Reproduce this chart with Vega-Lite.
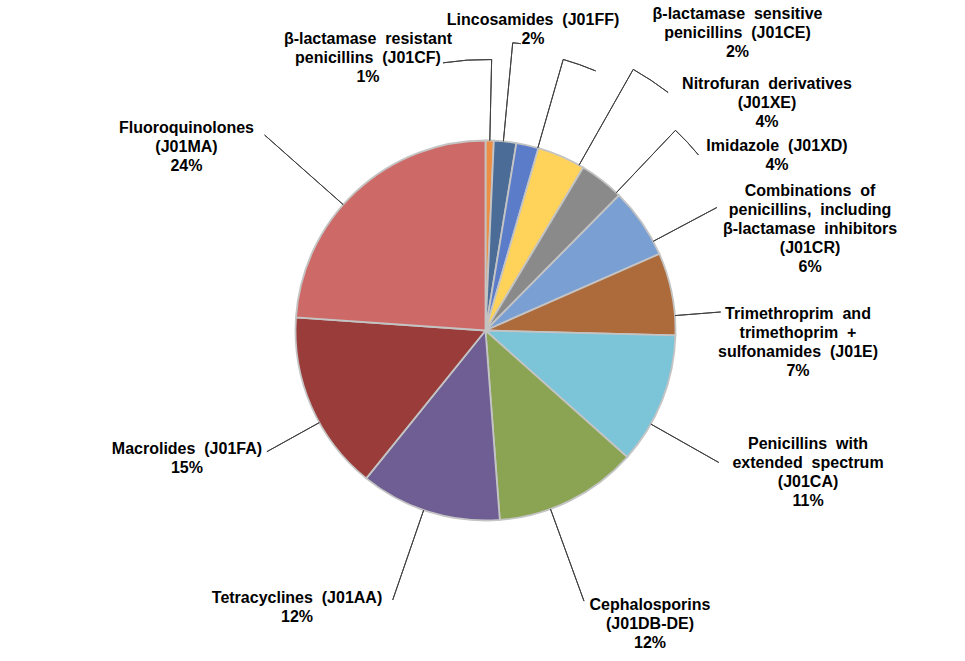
{
  "$schema": "https://vega.github.io/schema/vega-lite/v6.json",
  "width": 965,
  "height": 661,
  "autosize": {"type": "fit", "contains": "padding"},
  "padding": {"left": 6, "top": 0, "right": 0, "bottom": 0},
  "background": "white",
  "config": {"view": {"stroke": null}},
  "data": {
    "values": [
      {"id": "J01CF", "category": "β-lactamase resistant penicillins (J01CF)", "value": 0.7, "text": "β-lactamase\u00a0 resistant\npenicillins\u00a0 (J01CF)\n1%"},
      {"id": "J01FF", "category": "Lincosamides (J01FF)", "value": 1.9, "text": "Lincosamides\u00a0 (J01FF)\n2%"},
      {"id": "J01CE", "category": "β-lactamase sensitive penicillins (J01CE)", "value": 1.9, "text": "β-lactamase\u00a0 sensitive\npenicillins\u00a0 (J01CE)\n2%"},
      {"id": "J01XE", "category": "Nitrofuran derivatives (J01XE)", "value": 4.1, "text": "Nitrofuran\u00a0 derivatives\n(J01XE)\n4%"},
      {"id": "J01XD", "category": "Imidazole (J01XD)", "value": 3.8, "text": "Imidazole\u00a0 (J01XD)\n4%"},
      {"id": "J01CR", "category": "Combinations of penicillins, including β-lactamase inhibitors (J01CR)", "value": 6.0, "text": "Combinations\u00a0 of\npenicillins,\u00a0 including\nβ-lactamase\u00a0 inhibitors\n(J01CR)\n6%"},
      {"id": "J01E", "category": "Trimethroprim and trimethoprim + sulfonamides (J01E)", "value": 7.0, "text": "Trimethroprim\u00a0 and\ntrimethoprim\u00a0 +\nsulfonamides\u00a0 (J01E)\n7%"},
      {"id": "J01CA", "category": "Penicillins with extended spectrum (J01CA)", "value": 11.2, "text": "Penicillins\u00a0 with\nextended\u00a0 spectrum\n(J01CA)\n11%"},
      {"id": "J01DB-DE", "category": "Cephalosporins (J01DB-DE)", "value": 12.2, "text": "Cephalosporins\n(J01DB-DE)\n12%"},
      {"id": "J01AA", "category": "Tetracyclines (J01AA)", "value": 12.0, "text": "Tetracyclines\u00a0 (J01AA)\n12%"},
      {"id": "J01FA", "category": "Macrolides (J01FA)", "value": 15.3, "text": "Macrolides\u00a0 (J01FA)\n15%"},
      {"id": "J01MA", "category": "Fluoroquinolones (J01MA)", "value": 23.9, "text": "Fluoroquinolones\n(J01MA)\n24%"}
    ]
  },
  "transform": [{"stack": "value", "groupby": [], "as": ["v0", "v1"]}],
  "layer": [
    {
      "mark": {"type": "arc", "outerRadius": 190, "stroke": "#C4C4C4", "strokeWidth": 1.8},
      "encoding": {
        "theta": {"field": "v0", "type": "quantitative", "scale": {"domain": [0, 100]}},
        "theta2": {"field": "v1"},
        "color": {
          "field": "id",
          "type": "nominal",
          "scale": {
            "domain": ["J01CF", "J01FF", "J01CE", "J01XE", "J01XD", "J01CR", "J01E", "J01CA", "J01DB-DE", "J01AA", "J01FA", "J01MA"],
            "range": ["#EC8F45", "#4C6C98", "#5B7CC8", "#FFD35A", "#8A8A8A", "#7A9FD2", "#AD6A3A", "#7CC4D8", "#8AA453", "#6F5E93", "#9A3C3A", "#CD6A67"]
          },
          "legend": null
        }
      }
    },
    {
      "transform": [
        {"fold": ["v0", "v1"], "as": ["edge", "pos"]},
        {"aggregate": [{"op": "mean", "field": "pos", "as": "mid"}], "groupby": ["id", "text"]}
      ],
      "encoding": {
        "theta": {"field": "mid", "type": "quantitative", "scale": {"domain": [0, 100]}}
      },
      "layer": [
        {
          "transform": [{"filter": "datum.id === 'J01CF'"}],
          "layer": [
            {"mark": {"type": "arc", "innerRadius": 190, "outerRadius": 271, "thetaOffset": 0.0007, "theta2Offset": 0.0007, "fillOpacity": 0, "stroke": "#404040", "strokeWidth": 1}, "encoding": {"theta2": {"field": "mid"}}},
            {"mark": {"type": "arc", "innerRadius": 271, "outerRadius": 271, "thetaOffset": -0.1791, "theta2Offset": 0.0007, "fillOpacity": 0, "stroke": "#404040", "strokeWidth": 1}, "encoding": {"theta2": {"field": "mid"}}},
            {"mark": {"type": "text", "radius": 321.3, "thetaOffset": -0.3965, "align": "center", "baseline": "top", "lineBreak": "\n", "lineHeight": 19, "fontSize": 16, "fontWeight": "bold", "font": "Liberation Sans", "color": "black"}, "encoding": {"text": {"field": "text"}}}
          ]
        },
        {
          "transform": [{"filter": "datum.id === 'J01FF'"}],
          "layer": [
            {"mark": {"type": "arc", "innerRadius": 190, "outerRadius": 289, "thetaOffset": -0.0094, "theta2Offset": -0.0094, "fillOpacity": 0, "stroke": "#404040", "strokeWidth": 1}, "encoding": {"theta2": {"field": "mid"}}},
            {"mark": {"type": "arc", "innerRadius": 289, "outerRadius": 289, "thetaOffset": -0.0094, "theta2Offset": 0.0185, "fillOpacity": 0, "stroke": "#404040", "strokeWidth": 1}, "encoding": {"theta2": {"field": "mid"}}},
            {"mark": {"type": "text", "radius": 322.5, "thetaOffset": 0.0442, "align": "center", "baseline": "top", "lineBreak": "\n", "lineHeight": 19, "fontSize": 16, "fontWeight": "bold", "font": "Liberation Sans", "color": "black"}, "encoding": {"text": {"field": "text"}}}
          ]
        },
        {
          "transform": [{"filter": "datum.id === 'J01CE'"}],
          "layer": [
            {"mark": {"type": "arc", "innerRadius": 190, "outerRadius": 282, "thetaOffset": 0.0562, "theta2Offset": 0.0562, "fillOpacity": 0, "stroke": "#404040", "strokeWidth": 1}, "encoding": {"theta2": {"field": "mid"}}},
            {"mark": {"type": "arc", "innerRadius": 282, "outerRadius": 282, "thetaOffset": 0.0562, "theta2Offset": 0.1784, "fillOpacity": 0, "stroke": "#404040", "strokeWidth": 1}, "encoding": {"theta2": {"field": "mid"}}},
            {"mark": {"type": "text", "radius": 410.5, "thetaOffset": 0.4379, "align": "center", "baseline": "top", "lineBreak": "\n", "lineHeight": 19, "fontSize": 16, "fontWeight": "bold", "font": "Liberation Sans", "color": "black"}, "encoding": {"text": {"field": "text"}}}
          ]
        },
        {
          "transform": [{"filter": "datum.id === 'J01XE'"}],
          "layer": [
            {"mark": {"type": "arc", "innerRadius": 190, "outerRadius": 300, "thetaOffset": 0.1033, "theta2Offset": 0.1033, "fillOpacity": 0, "stroke": "#404040", "strokeWidth": 1}, "encoding": {"theta2": {"field": "mid"}}},
            {"mark": {"type": "arc", "innerRadius": 300, "outerRadius": 300, "thetaOffset": 0.1033, "theta2Offset": 0.2429, "fillOpacity": 0, "stroke": "#404040", "strokeWidth": 1}, "encoding": {"theta2": {"field": "mid"}}},
            {"mark": {"type": "text", "radius": 379.8, "thetaOffset": 0.4232, "align": "center", "baseline": "top", "lineBreak": "\n", "lineHeight": 19, "fontSize": 16, "fontWeight": "bold", "font": "Liberation Sans", "color": "black"}, "encoding": {"text": {"field": "text"}}}
          ]
        },
        {
          "transform": [{"filter": "datum.id === 'J01XD'"}],
          "layer": [
            {"mark": {"type": "arc", "innerRadius": 190, "outerRadius": 276, "thetaOffset": 0.0995, "theta2Offset": 0.0995, "fillOpacity": 0, "stroke": "#404040", "strokeWidth": 1}, "encoding": {"theta2": {"field": "mid"}}},
            {"mark": {"type": "arc", "innerRadius": 276, "outerRadius": 276, "thetaOffset": 0.0995, "theta2Offset": 0.2217, "fillOpacity": 0, "stroke": "#404040", "strokeWidth": 1}, "encoding": {"theta2": {"field": "mid"}}},
            {"mark": {"type": "text", "radius": 349.05, "thetaOffset": 0.3286, "align": "center", "baseline": "top", "lineBreak": "\n", "lineHeight": 19, "fontSize": 16, "fontWeight": "bold", "font": "Liberation Sans", "color": "black"}, "encoding": {"text": {"field": "text"}}}
          ]
        },
        {
          "transform": [{"filter": "datum.id === 'J01CR'"}],
          "layer": [
            {"mark": {"type": "arc", "innerRadius": 190, "outerRadius": 262, "thetaOffset": 0.1145, "theta2Offset": 0.1145, "fillOpacity": 0, "stroke": "#404040", "strokeWidth": 1}, "encoding": {"theta2": {"field": "mid"}}},
            {"mark": {"type": "text", "radius": 356.7, "thetaOffset": 0.1754, "align": "center", "baseline": "top", "lineBreak": "\n", "lineHeight": 19, "fontSize": 16, "fontWeight": "bold", "font": "Liberation Sans", "color": "black"}, "encoding": {"text": {"field": "text"}}}
          ]
        },
        {
          "transform": [{"filter": "datum.id === 'J01E'"}],
          "layer": [
            {"mark": {"type": "arc", "innerRadius": 190, "outerRadius": 236, "thetaOffset": 0.1162, "theta2Offset": 0.1162, "fillOpacity": 0, "stroke": "#404040", "strokeWidth": 1}, "encoding": {"theta2": {"field": "mid"}}},
            {"mark": {"type": "text", "radius": 313.5, "thetaOffset": 0.1150, "align": "center", "baseline": "top", "lineBreak": "\n", "lineHeight": 19, "fontSize": 16, "fontWeight": "bold", "font": "Liberation Sans", "color": "black"}, "encoding": {"text": {"field": "text"}}}
          ]
        },
        {
          "transform": [{"filter": "datum.id === 'J01CA'"}],
          "layer": [
            {"mark": {"type": "arc", "innerRadius": 190, "outerRadius": 268, "thetaOffset": 0.1379, "theta2Offset": 0.1379, "fillOpacity": 0, "stroke": "#404040", "strokeWidth": 1}, "encoding": {"theta2": {"field": "mid"}}},
            {"mark": {"type": "text", "radius": 339.5, "thetaOffset": -0.0595, "align": "center", "baseline": "top", "lineBreak": "\n", "lineHeight": 19, "fontSize": 16, "fontWeight": "bold", "font": "Liberation Sans", "color": "black"}, "encoding": {"text": {"field": "text"}}}
          ]
        },
        {
          "transform": [{"filter": "datum.id === 'J01DB-DE'"}],
          "layer": [
            {"mark": {"type": "arc", "innerRadius": 190, "outerRadius": 288, "thetaOffset": 0.1096, "theta2Offset": 0.1096, "fillOpacity": 0, "stroke": "#404040", "strokeWidth": 1}, "encoding": {"theta2": {"field": "mid"}}},
            {"mark": {"type": "text", "radius": 312.8, "thetaOffset": -0.0951, "align": "center", "baseline": "top", "lineBreak": "\n", "lineHeight": 19, "fontSize": 16, "fontWeight": "bold", "font": "Liberation Sans", "color": "black"}, "encoding": {"text": {"field": "text"}}}
          ]
        },
        {
          "transform": [{"filter": "datum.id === 'J01AA'"}],
          "layer": [
            {"mark": {"type": "arc", "innerRadius": 190, "outerRadius": 285, "thetaOffset": 0.0300, "theta2Offset": 0.0300, "fillOpacity": 0, "stroke": "#404040", "strokeWidth": 1}, "encoding": {"theta2": {"field": "mid"}}},
            {"mark": {"type": "text", "radius": 321.1, "thetaOffset": 0.3257, "align": "center", "baseline": "top", "lineBreak": "\n", "lineHeight": 19, "fontSize": 16, "fontWeight": "bold", "font": "Liberation Sans", "color": "black"}, "encoding": {"text": {"field": "text"}}}
          ]
        },
        {
          "transform": [{"filter": "datum.id === 'J01FA'"}],
          "layer": [
            {"mark": {"type": "arc", "innerRadius": 190, "outerRadius": 250, "thetaOffset": -0.0946, "theta2Offset": -0.0946, "fillOpacity": 0, "stroke": "#404040", "strokeWidth": 1}, "encoding": {"theta2": {"field": "mid"}}},
            {"mark": {"type": "text", "radius": 318.5, "thetaOffset": 0.0557, "align": "center", "baseline": "top", "lineBreak": "\n", "lineHeight": 19, "fontSize": 16, "fontWeight": "bold", "font": "Liberation Sans", "color": "black"}, "encoding": {"text": {"field": "text"}}}
          ]
        },
        {
          "transform": [{"filter": "datum.id === 'J01MA'"}],
          "layer": [
            {"mark": {"type": "arc", "innerRadius": 190, "outerRadius": 295, "thetaOffset": -0.0956, "theta2Offset": -0.0956, "fillOpacity": 0, "stroke": "#404040", "strokeWidth": 1}, "encoding": {"theta2": {"field": "mid"}}},
            {"mark": {"type": "text", "radius": 365.4, "thetaOffset": -0.2077, "align": "center", "baseline": "top", "lineBreak": "\n", "lineHeight": 19, "fontSize": 16, "fontWeight": "bold", "font": "Liberation Sans", "color": "black"}, "encoding": {"text": {"field": "text"}}}
          ]
        }
      ]
    }
  ]
}
